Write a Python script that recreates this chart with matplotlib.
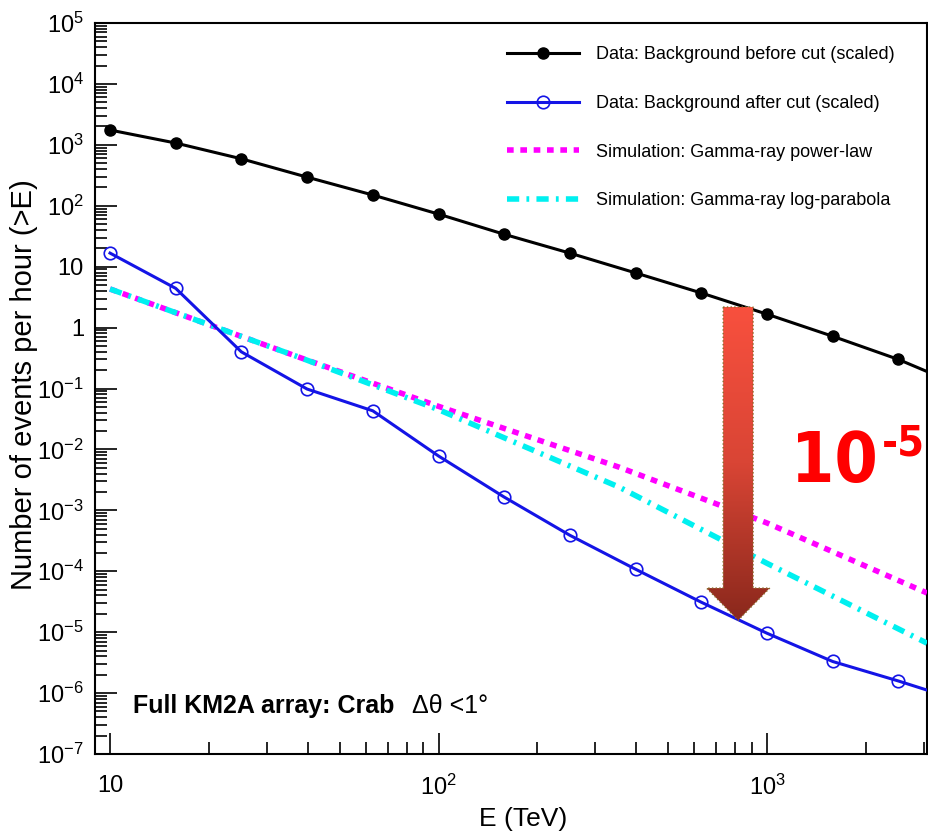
import numpy as np
import matplotlib.pyplot as plt
from matplotlib.patches import Polygon
from matplotlib.colors import LinearSegmentedColormap
from matplotlib.ticker import LogLocator, FixedLocator, FuncFormatter, NullFormatter

plt.rcParams['font.family'] = ['Liberation Sans', 'DejaVu Sans']
plt.rcParams['mathtext.fontset'] = 'custom'
plt.rcParams['mathtext.rm'] = 'Liberation Sans'
plt.rcParams['mathtext.it'] = 'Liberation Sans:italic'
plt.rcParams['mathtext.bf'] = 'Liberation Sans:bold'

# energy thresholds (TeV) of the data points
energy = [10, 15.85, 25.1, 39.8, 63.1, 100, 158.5, 251, 398, 631, 1000, 1585, 2512]
bkg_before = [1750, 1070, 590, 295, 150, 73, 34, 16.7, 7.9, 3.7, 1.66, 0.72, 0.30]
bkg_after = [16.7, 4.4, 0.40, 0.098, 0.043, 0.0078, 1.65e-3, 3.9e-4, 1.08e-4,
             3.1e-5, 9.6e-6, 3.3e-6, 1.58e-6]
# where the data curves meet the right frame
e_edge = 3070
bkg_before_edge = 0.19
bkg_after_edge = 1.12e-6

# simulated gamma-ray rates
sim_energy = [10, 38, 100, 355, 1000, 3070]
sim_powerlaw = [4.3, 0.32, 0.051, 5.1e-3, 6.2e-4, 4.4e-5]
sim_logparabola = [4.3, 0.32, 0.045, 2.4e-3, 1.35e-4, 6.6e-6]

labels = ["Data: Background before cut (scaled)",
          "Data: Background after cut (scaled)",
          "Simulation: Gamma-ray power-law",
          "Simulation: Gamma-ray log-parabola"]

fig = plt.figure(figsize=(9.29, 8.32), dpi=100)
ax = fig.add_axes([95 / 929, 1 - 754 / 832, 832 / 929, 731 / 832])

n = len(energy)
ax.plot(energy + [e_edge], bkg_before + [bkg_before_edge], color='black', lw=2.2,
        marker='o', ms=8, markevery=list(range(n)), label=labels[0], zorder=4)
ax.plot(energy + [e_edge], bkg_after + [bkg_after_edge], color='#1414e6', lw=2.2,
        marker='o', ms=9, mfc='none', mec='#1414e6', mew=1.2,
        markevery=list(range(n)), label=labels[1], zorder=4)
ax.plot(sim_energy, sim_powerlaw, color='#ff00ff', lw=4, ls=(0, (1.2, 1.2)),
        label=labels[2], zorder=3)
ax.plot(sim_energy, sim_logparabola, color='#00f0f0', lw=4,
        ls=(0, (2.2, 1.3, 0.5, 1.3)), label=labels[3], zorder=3)

# big red arrow with a colour gradient
arrow_pts = [(0.755, 0.6115), (0.791, 0.6115), (0.791, 0.227), (0.811, 0.227),
             (0.773, 0.183), (0.735, 0.227), (0.755, 0.227)]
arrow = Polygon(arrow_pts, closed=True, transform=ax.transAxes, facecolor='none',
                edgecolor='#8a6a2a', lw=1, ls=':', zorder=7)
ax.add_patch(arrow)
grad = np.linspace(0, 1, 256).reshape(-1, 1)
cmap = LinearSegmentedColormap.from_list('arrow', ['#f8503e', '#d94535', '#8a281c'])
img = ax.imshow(grad, cmap=cmap, extent=[0.735, 0.811, 0.183, 0.6115],
                transform=ax.transAxes, aspect='auto', origin='upper', zorder=6)
img.set_clip_path(arrow)

ax.set_xscale('log')
ax.set_yscale('log')
ax.set_xlim(9.0, e_edge)
ax.set_ylim(1e-7, 1e5)

ax.xaxis.set_major_locator(FixedLocator([10, 100, 1000]))
ax.xaxis.set_minor_locator(LogLocator(base=10, subs=range(2, 10), numticks=20))
ax.yaxis.set_major_locator(LogLocator(base=10, numticks=20))
ax.yaxis.set_minor_locator(LogLocator(base=10, subs=range(2, 10), numticks=20))


def log_label(v, pos):
    e = int(round(np.log10(v)))
    if e == 0:
        return '1'
    if e == 1:
        return '10'
    return r'$10^{%d}$' % e


ax.xaxis.set_major_formatter(FuncFormatter(log_label))
ax.yaxis.set_major_formatter(FuncFormatter(log_label))
ax.xaxis.set_minor_formatter(NullFormatter())
ax.yaxis.set_minor_formatter(NullFormatter())

ax.tick_params(which='both', direction='in', top=False, right=False, width=1.2,
               labelsize=17)
ax.tick_params(axis='y', which='major', length=16, pad=8)
ax.tick_params(axis='y', which='minor', length=8.5)
ax.tick_params(axis='x', which='major', length=15, pad=15)
ax.tick_params(axis='x', which='minor', length=8.5)
for s in ax.spines.values():
    s.set_linewidth(1.5)

ax.set_ylabel('Number of events per hour (>E)', fontsize=21)
ax.yaxis.set_label_coords(-0.069, 0.505)
ax.set_xlabel('E (TeV)', fontsize=19)
ax.xaxis.set_label_coords(0.515, -0.072)

ax.legend(loc='upper left', bbox_to_anchor=(0.495, 0.968), frameon=False,
          fontsize=13, handlelength=4.0, handletextpad=0.95, labelspacing=1.75,
          borderpad=0, borderaxespad=0, numpoints=1)

ax.text(0.046, 0.056, 'Full KM2A array: Crab', transform=ax.transAxes,
        fontsize=18, fontweight='bold', va='baseline')
ax.text(0.381, 0.056, 'Δθ <1°', transform=ax.transAxes, fontsize=18,
        va='baseline')

ax.text(0.836, 0.372, '10', transform=ax.transAxes, color='#ff0000',
        fontsize=50, fontweight='bold', family='DejaVu Sans',
        fontstretch='condensed', va='baseline', zorder=8)
ax.text(0.946, 0.409, '-5', transform=ax.transAxes, color='#ff0000',
        fontsize=31, fontweight='bold', family='DejaVu Sans',
        fontstretch='condensed', va='baseline', zorder=8)

fig.savefig('out.png', dpi=100)
